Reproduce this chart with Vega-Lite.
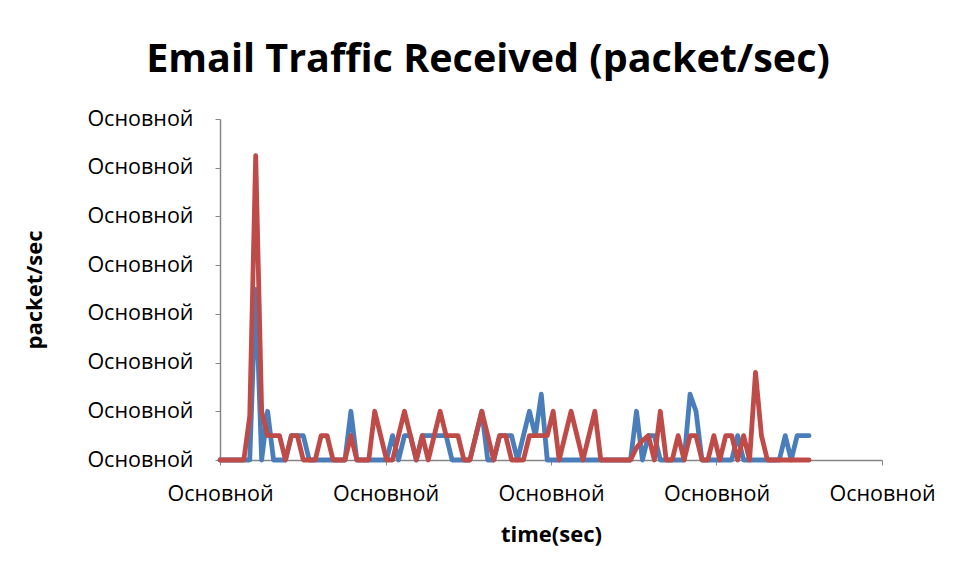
{
 "$schema": "https://vega.github.io/schema/vega-lite/v6.json",
 "width": 662, "height": 341,
 "autosize": "none",
 "padding": {"left": 220, "top": 119, "right": 72, "bottom": 118},
 "background": "white",
 "title": {"text": "Email Traffic Received (packet/sec)", "font": "Open Sans", "fontSize": 39.5, "fontWeight": "bold", "color": "#000000", "anchor": "middle", "frame": "group", "dx": -63, "offset": 28},
 "data": {"values": [
{"t":0,"Series1":0,"Series2":0},{"t":1,"Series1":0,"Series2":0},{"t":2,"Series1":0,"Series2":0},{"t":3,"Series1":0,"Series2":0},{"t":4,"Series1":0,"Series2":0},
{"t":5,"Series1":0,"Series2":0.9},{"t":6,"Series1":3.5,"Series2":6.25},{"t":7,"Series1":0,"Series2":1},{"t":8,"Series1":1,"Series2":0.5},{"t":9,"Series1":0,"Series2":0.5},
{"t":10,"Series1":0,"Series2":0.5},{"t":11,"Series1":0,"Series2":0},{"t":12,"Series1":0.5,"Series2":0.5},{"t":13,"Series1":0.5,"Series2":0.5},{"t":14,"Series1":0.5,"Series2":0},
{"t":15,"Series1":0,"Series2":0},{"t":16,"Series1":0,"Series2":0},{"t":17,"Series1":0,"Series2":0.5},{"t":18,"Series1":0,"Series2":0.5},{"t":19,"Series1":0,"Series2":0},
{"t":20,"Series1":0,"Series2":0},{"t":21,"Series1":0,"Series2":0},{"t":22,"Series1":1,"Series2":0.5},{"t":23,"Series1":0,"Series2":0},{"t":24,"Series1":0,"Series2":0},
{"t":25,"Series1":0,"Series2":0},{"t":26,"Series1":0,"Series2":1},{"t":27,"Series1":0,"Series2":0.5},{"t":28,"Series1":0,"Series2":0},{"t":29,"Series1":0.5,"Series2":0},
{"t":30,"Series1":0,"Series2":0.5},{"t":31,"Series1":0.5,"Series2":1},{"t":32,"Series1":0.5,"Series2":0.5},{"t":33,"Series1":0,"Series2":0},{"t":34,"Series1":0.5,"Series2":0.5},
{"t":35,"Series1":0.5,"Series2":0},{"t":36,"Series1":0.5,"Series2":0.5},{"t":37,"Series1":0.5,"Series2":1},{"t":38,"Series1":0.5,"Series2":0.5},{"t":39,"Series1":0,"Series2":0.5},
{"t":40,"Series1":0,"Series2":0.5},{"t":41,"Series1":0,"Series2":0},{"t":42,"Series1":0,"Series2":0},{"t":43,"Series1":0.5,"Series2":0.5},{"t":44,"Series1":1,"Series2":1},
{"t":45,"Series1":0,"Series2":0.5},{"t":46,"Series1":0,"Series2":0},{"t":47,"Series1":0.5,"Series2":0.5},{"t":48,"Series1":0.5,"Series2":0.5},{"t":49,"Series1":0.5,"Series2":0},
{"t":50,"Series1":0,"Series2":0},{"t":51,"Series1":0.5,"Series2":0},{"t":52,"Series1":1,"Series2":0.5},{"t":53,"Series1":0.5,"Series2":0.5},{"t":54,"Series1":1.35,"Series2":0.5},
{"t":55,"Series1":0,"Series2":0.5},{"t":56,"Series1":0,"Series2":1},{"t":57,"Series1":0,"Series2":0},{"t":58,"Series1":0,"Series2":0.5},{"t":59,"Series1":0,"Series2":1},
{"t":60,"Series1":0,"Series2":0.5},{"t":61,"Series1":0,"Series2":0},{"t":62,"Series1":0,"Series2":0.5},{"t":63,"Series1":0,"Series2":1},{"t":64,"Series1":0,"Series2":0},
{"t":65,"Series1":0,"Series2":0},{"t":66,"Series1":0,"Series2":0},{"t":67,"Series1":0,"Series2":0},{"t":68,"Series1":0,"Series2":0},{"t":69,"Series1":0,"Series2":0},
{"t":70,"Series1":1,"Series2":0.25},{"t":71,"Series1":0,"Series2":0.4},{"t":72,"Series1":0.5,"Series2":0.5},{"t":73,"Series1":0.5,"Series2":0},{"t":74,"Series1":0,"Series2":1},
{"t":75,"Series1":0,"Series2":0},{"t":76,"Series1":0,"Series2":0},{"t":77,"Series1":0,"Series2":0.5},{"t":78,"Series1":0,"Series2":0},{"t":79,"Series1":1.35,"Series2":0.5},
{"t":80,"Series1":1,"Series2":0.5},{"t":81,"Series1":0,"Series2":0},{"t":82,"Series1":0,"Series2":0},{"t":83,"Series1":0,"Series2":0.5},{"t":84,"Series1":0,"Series2":0},
{"t":85,"Series1":0,"Series2":0.5},{"t":86,"Series1":0,"Series2":0.5},{"t":87,"Series1":0.5,"Series2":0},{"t":88,"Series1":0,"Series2":0.5},{"t":89,"Series1":0,"Series2":0},
{"t":90,"Series1":0,"Series2":1.8},{"t":91,"Series1":0,"Series2":0.5},{"t":92,"Series1":0,"Series2":0},{"t":93,"Series1":0,"Series2":0},{"t":94,"Series1":0,"Series2":0},
{"t":95,"Series1":0.5,"Series2":0},{"t":96,"Series1":0,"Series2":0},{"t":97,"Series1":0.5,"Series2":0},{"t":98,"Series1":0.5,"Series2":0},{"t":99,"Series1":0.5,"Series2":0}
 ]},
 "transform": [{"fold": ["Series1", "Series2"], "as": ["series", "value"]}],
 "mark": {"type": "line", "strokeWidth": 4.8, "strokeJoin": "round", "strokeCap": "round"},
 "encoding": {
  "x": {"field": "t", "type": "quantitative", "scale": {"domain": [0, 111.26], "nice": false, "zero": false},
        "axis": {"title": "time(sec)", "values": [0, 27.815, 55.63, 83.445, 111.26], "labelExpr": "'Основной'", "labelFlush": false, "labelPadding": 18, "titlePadding": 20}},
  "y": {"field": "value", "type": "quantitative", "scale": {"domain": [0, 7], "nice": false},
        "axis": {"title": "packet/sec", "values": [0, 1, 2, 3, 4, 5, 6, 7], "labelExpr": "'Основной'", "labelPadding": 22, "titlePadding": 40}},
  "color": {"field": "series", "type": "nominal", "scale": {"domain": ["Series1", "Series2"], "range": ["#4A7EBB", "#BE4B48"]}, "legend": null}
 },
 "config": {
  "view": {"stroke": null},
  "axis": {"grid": false, "domainColor": "#868686", "domainWidth": 1.5, "tickColor": "#868686", "tickSize": 5, "tickWidth": 1,
           "labelFont": "Open Sans", "labelFontSize": 21.5, "labelColor": "#000000",
           "titleFont": "Open Sans", "titleFontSize": 22, "titleFontWeight": "bold", "titleColor": "#000000"}
 }
}
